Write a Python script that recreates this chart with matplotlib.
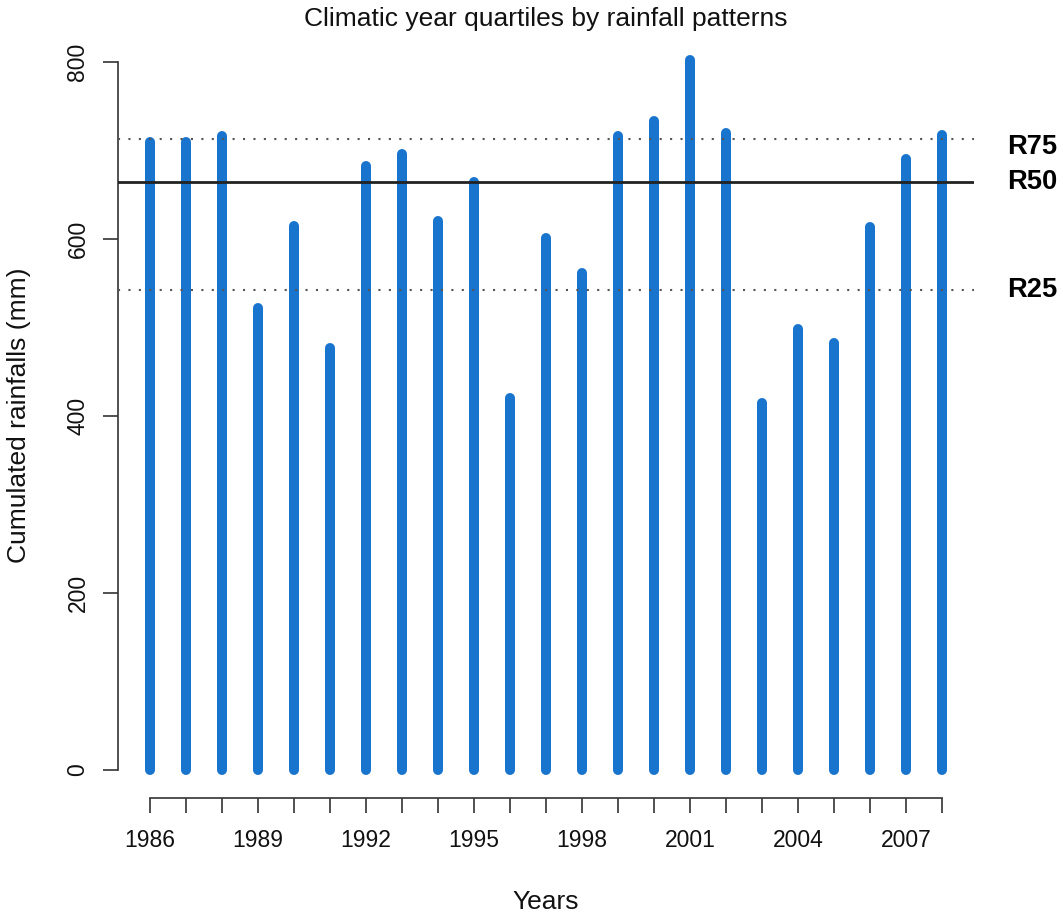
import numpy as np
import matplotlib
matplotlib.use('Agg')
import matplotlib.pyplot as plt

plt.rcParams['font.family'] = ['Liberation Sans', 'DejaVu Sans']

# Cumulated rainfall per climatic year (mm)
years = list(range(1986, 2009))
rainfall = [710, 710, 717, 522, 615, 477, 683, 696, 620, 665, 421, 601,
            562, 717, 733, 802, 720, 415, 498, 483, 614, 690, 718]
quartile_labels = ['R25', 'R50', 'R75']
y_ticks = [0, 200, 400, 600, 800]

# R's default quantile (type 7) matches np.percentile linear method
q25, q50, q75 = np.percentile(rainfall, [25, 50, 75])

fig = plt.figure(figsize=(10.63, 9.16), dpi=100)
ax = fig.add_axes([118.3 / 1063, 1 - 798.4 / 916,
                   (973.7 - 118.3) / 1063, (798.4 - 32) / 916])

# type="h" bars: thick vertical segments with round caps
ax.vlines(years, 0, rainfall, colors='#1874CD', linewidth=7.2,
          capstyle='round', zorder=2)

# quartile reference lines
ax.axhline(q50, color='#222222', linewidth=2.0, zorder=3)
ax.axhline(q25, color='#555555', linewidth=1.5, linestyle=(0, (1, 4)), zorder=3)
ax.axhline(q75, color='#555555', linewidth=1.5, linestyle=(0, (1, 4)), zorder=3)

# R-style axis ranges (4% padding)
span_x = years[-1] - years[0]
ax.set_xlim(years[0] - 0.04 * span_x, years[-1] + 0.04 * span_x)
span_y = max(rainfall)
ax.set_ylim(-0.04 * span_y, span_y * 1.04)

# detached-looking axes like base R
for side in ['top', 'right']:
    ax.spines[side].set_visible(False)
ax.spines['left'].set_bounds(y_ticks[0], y_ticks[-1])
ax.spines['bottom'].set_bounds(years[0], years[-1])
for side in ['left', 'bottom']:
    ax.spines[side].set_color('#333333')
    ax.spines[side].set_linewidth(1.2)

ax.set_xticks(years)
ax.set_xticklabels([str(y) if (y - years[0]) % 3 == 0 else '' for y in years])
ax.set_yticks(y_ticks)
ax.set_yticklabels([str(v) for v in y_ticks])
ax.tick_params(axis='both', length=10.8, width=1.2, color='#333333',
               labelsize=16.5, labelcolor='#111111')
ax.tick_params(axis='x', pad=11)
ax.tick_params(axis='y', pad=10)
for lab in ax.get_yticklabels():
    lab.set_rotation(90)
    lab.set_verticalalignment('center')

ax.set_title('Climatic year quartiles by rainfall patterns', fontsize=19,
             y=(798.4 - 19) / 766.4, pad=0, va='center', color='#111111')
ax.set_xlabel('Years', fontsize=19, color='#111111')
ax.xaxis.label.set_verticalalignment('center')
ax.xaxis.set_label_coords(0.5, (798.4 - 902) / 766.4)
ax.set_ylabel('Cumulated rainfalls (mm)', fontsize=19, color='#111111')
ax.yaxis.label.set_verticalalignment('center')
ax.yaxis.set_label_coords((19 - 118.3) / 855.4, 0.5)

# quartile names in the right margin
label_x = (1007 - 118.3) / 855.4
offsets = [0, 0, -9]
for name, q, off in zip(quartile_labels, [q25, q50, q75], offsets):
    ax.text(label_x, q + off, name, transform=ax.get_yaxis_transform(),
            fontsize=19.6, fontweight='bold', ha='left', va='center',
            clip_on=False)

fig.savefig('out.png', dpi=100)
